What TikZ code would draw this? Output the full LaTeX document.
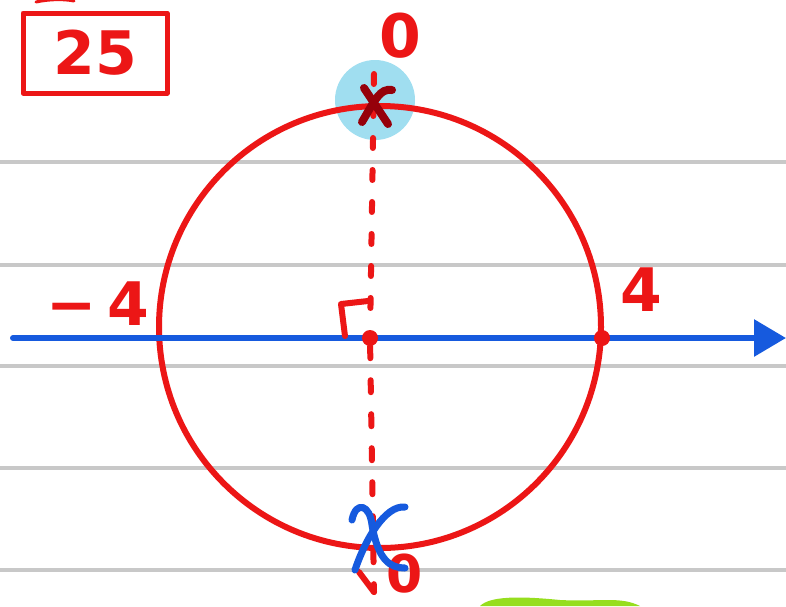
\documentclass[tikz,border=0pt]{standalone}
\usepackage{fontspec}
\setmainfont{DejaVu Sans}
\usetikzlibrary{arrows.meta,positioning}
\definecolor{penred}{RGB}{236,22,22}
\definecolor{darkpen}{RGB}{150,0,10}
\definecolor{penblue}{RGB}{22,90,222}
\definecolor{hilite}{RGB}{160,222,240}
\definecolor{rulegrey}{RGB}{200,200,200}
\definecolor{marker}{RGB}{150,222,30}

\begin{document}
\begin{tikzpicture}[
    x=1pt, y=-1pt,
    redpen/.style={draw=penred, line width=6pt, line cap=round, line join=round},
    bluepen/.style={draw=penblue, line width=6pt, line cap=round, line join=round},
    rule/.style={draw=rulegrey, line width=3.5pt},
    lbl/.style={text=penred, inner sep=0pt, font=\fontsize{60}{60}\selectfont\bfseries},
    dot/.style={circle, fill=penred, minimum size=16pt, inner sep=0pt}
  ]
  \useasboundingbox (0,0) rectangle (786,606);
  \fill[white] (0,0) rectangle (786,606);

  % notebook lines
  \foreach \y in {162,265,366,468,570}
    \draw[rule] (0,\y) -- (786,\y);

  % highlight at the top point
  \fill[hilite] (375,100) circle (40);

  % the circle
  \node[circle, draw=penred, line width=6pt, minimum size=442pt, inner sep=0pt] (circ) at (380,327) {};

  % number line
  \coordinate (axL) at (13,338);
  \coordinate (axR) at (786,338);
  \draw[bluepen, -{Triangle[length=32pt,width=36pt]}] (axL) -- (axR);

  \node[dot] (ctr) at (370,338) {};
  \node[dot] (rpt) at (602,338) {};

  % right angle mark
  \draw[redpen] (345,336) -- (341,304) -- (368,301);

  % top and bottom points
  \coordinate (topx) at (374,108);
  \coordinate (botx) at (374,540);
  \draw[redpen, dash pattern=on 10pt off 22pt] ([yshift=34]topx) -- (ctr);
  \draw[redpen, dash pattern=on 12pt off 22pt] ([yshift=34]ctr) -- ([yshift=-52]botx);
  \draw[redpen] ([yshift=-52]botx) -- (359,572);
  \draw[darkpen, line width=8pt, line cap=round] (364,88) -- (388,124);
  \draw[darkpen, line width=8pt, line cap=round] (362,122) .. controls (375,100) and (380,88) .. (392,90);

  % labels
  \node[lbl, font=\fontsize{52}{52}\selectfont\bfseries] (botzero) at (405,574) {0};
  \draw[bluepen, line width=7pt] (352,520) .. controls (356,500) and (370,505) .. (372,525)
    .. controls (378,560) and (390,568) .. (405,568);
  \draw[bluepen, line width=7pt] (405,507) .. controls (385,505) and (365,540) .. (355,570);
  \node[lbl] (topzero) at (400,36) {0};
  \node[lbl] (lneg) at (98,304) {−\,4};
  \node[lbl] (lpos) at (641,290) {4};
  \node[lbl] (num) at (95,53) {25};
  \draw[redpen, line width=5pt, line cap=butt] (23,13) rectangle (167,93);

  % leftover strokes at the edges
  \draw[redpen, line width=3pt] (36,2) .. controls (50,-1) and (64,-1) .. (74,1);
  \fill[marker] (480,606) .. controls (490,596) and (520,596) .. (560,600)
    .. controls (600,602) and (620,596) .. (640,606) -- cycle;
\end{tikzpicture}
\end{document}
